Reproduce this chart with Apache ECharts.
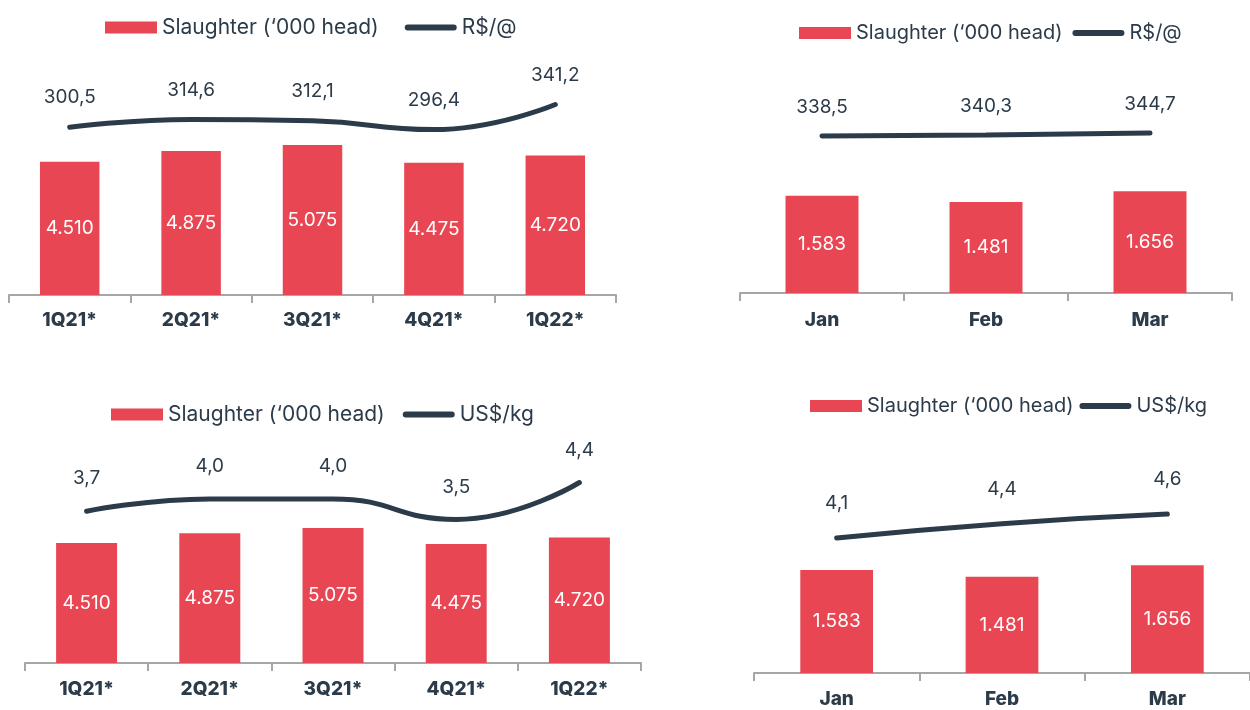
<!DOCTYPE html>
<html><head><meta charset="utf-8">
<script src="https://cdn.jsdelivr.net/npm/echarts@6/dist/echarts.min.js"></script>
<style>html,body{margin:0;padding:0;background:#fff}#c{width:1250px;height:710px}</style>
</head><body><div id="c"></div>
<script>
// ---- data ----
const quarters = ['1Q21*', '2Q21*', '3Q21*', '4Q21*', '1Q22*'];
const months = ['Jan', 'Feb', 'Mar'];
const slaughterQ = [4510, 4875, 5075, 4475, 4720];
const slaughterM = [1583, 1481, 1656];
const priceBRLQ = [300.5, 314.6, 312.1, 296.4, 341.2];
const priceBRLM = [338.5, 340.3, 344.7];
const priceUSDQ = [3.7, 4.0, 4.0, 3.5, 4.4];
const priceUSDM = [4.1, 4.4, 4.6];
const barName = "Slaughter (\u2018000 head)";
const brlName = 'R$/@';
const usdName = 'US$/kg';

// ---- style ----
const RED = '#E84653';
const DARK = '#2C3B4A';
const GRAY = '#A6A6A6';
const FONT = 'Inter';
const LINE_ICON = 'path://M0,-3h0.01v0.01h-0.01z M3,0 H49 A3,3 0 0 1 49,6 H3 A3,3 0 0 1 3,0 Z M0,8.99h0.01v0.01h-0.01z';

const chart = echarts.init(document.getElementById('c'), null, {renderer: 'canvas'});

const panels = [
  {cats: quarters, bars: slaughterQ, line: priceBRLQ, lineName: brlName,
   grid: {left: 9, top: 60, width: 607, height: 235}, barMax: 7950, lineMin: 0, lineMax: 421,
   barWidth: '49%', legend: {left: 105, top: 17, gap: 26, font: 21}, labMargin: 16, lineDist: 19},
  {cats: months, bars: slaughterM, line: priceBRLM, lineName: brlName,
   grid: {left: 740, top: 60, width: 492, height: 233}, barMax: 3795, lineMin: 0, lineMax: 502,
   barWidth: '44.5%', legend: {left: 799, top: 23, gap: 10, font: 20}, labMargin: 18, lineDist: 18},
  {cats: quarters, bars: slaughterQ, line: priceUSDQ, lineName: usdName,
   grid: {left: 25, top: 430, width: 616, height: 233}, barMax: 8760, lineMin: 0, lineMax: 5.68,
   barWidth: '49.5%', legend: {left: 111, top: 404, gap: 18, font: 21}, labMargin: 17, lineDist: 22},
  {cats: months, bars: slaughterM, line: priceUSDM, lineName: usdName,
   grid: {left: 754, top: 430, width: 501, height: 243}, barMax: 3738, lineMin: 1.29, lineMax: 6.35,
   barWidth: '44%', legend: {left: 810, top: 396, gap: 6, font: 20}, labMargin: 17, lineDist: 24}
];

const fmtThousands = v => {
  const s = String(Math.round(v));
  return s.replace(/\B(?=(\d{3})+(?!\d))/g, '.');
};
const fmtDecimal = v => v.toFixed(1).replace('.', ',');

const option = {
  backgroundColor: '#fff',
  animation: false,
  grid: [], xAxis: [], yAxis: [], series: [], legend: []
};

panels.forEach((p, i) => {
  option.grid.push(Object.assign({containLabel: false}, p.grid));
  option.xAxis.push({
    type: 'category', gridIndex: i, data: p.cats, boundaryGap: true,
    axisLine: {show: true, lineStyle: {color: GRAY, width: 2}},
    axisTick: {show: true, length: 8, lineStyle: {color: GRAY, width: 2}},
    axisLabel: {color: DARK, fontFamily: FONT, fontWeight: 800, fontSize: 19, margin: p.labMargin},
    splitLine: {show: false}
  });
  option.yAxis.push({type: 'value', gridIndex: i, min: 0, max: p.barMax, show: false, splitLine: {show: false}});
  option.yAxis.push({type: 'value', gridIndex: i, min: p.lineMin, max: p.lineMax, show: false, splitLine: {show: false}});
  const bName = barName + '\u200B'.repeat(i);
  const lName = p.lineName + '\u200B'.repeat(i);
  option.series.push({
    type: 'bar', name: bName, xAxisIndex: i, yAxisIndex: 2 * i, data: p.bars,
    barWidth: p.barWidth, itemStyle: {color: RED},
    label: {show: true, position: 'inside', color: '#fff', fontFamily: FONT, fontSize: 19,
            formatter: d => fmtThousands(d.value)}
  });
  option.series.push({
    type: 'line', name: lName, xAxisIndex: i, yAxisIndex: 2 * i + 1, data: p.line,
    smooth: true, symbol: 'circle', symbolSize: 2, showSymbol: true,
    lineStyle: {color: DARK, width: 5, cap: 'round'}, itemStyle: {color: DARK},
    label: {show: true, position: 'top', distance: p.lineDist, color: DARK, fontFamily: FONT, fontSize: 19,
            formatter: d => fmtDecimal(d.value)},
    z: 3
  });
  option.legend.push({
    left: p.legend.left, top: p.legend.top, itemGap: p.legend.gap, padding: 0,
    itemWidth: 52, itemHeight: 12,
    data: [{name: bName, icon: 'rect'}, {name: lName, icon: LINE_ICON, itemStyle: {color: DARK}}],
    formatter: n => n.replace(/\u200B/g, ''),
    textStyle: {color: DARK, fontFamily: FONT, fontSize: p.legend.font},
    selectedMode: false
  });
});

chart.setOption(option);
</script>
</body></html>
